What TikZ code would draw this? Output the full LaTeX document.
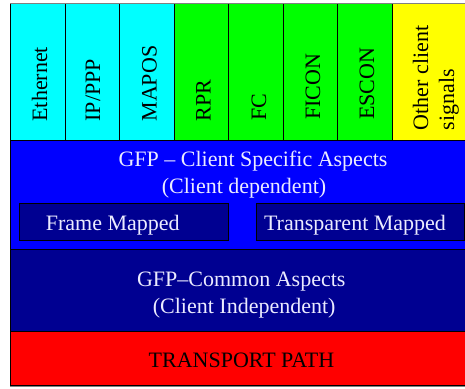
\documentclass[tikz,border=0pt]{standalone}
\usepackage{fontspec}
\setmainfont{Liberation Serif}
\definecolor{cyanfill}{RGB}{0,255,255}
\definecolor{greenfill}{RGB}{0,255,0}
\definecolor{yellowfill}{RGB}{255,255,0}
\definecolor{bluefill}{RGB}{0,0,255}
\definecolor{navyfill}{RGB}{0,0,145}
\definecolor{redfill}{RGB}{255,0,0}
\definecolor{lighttext}{RGB}{235,235,255}
\begin{document}
\begin{tikzpicture}[x=1pt,y=-1pt,
  every node/.style={inner sep=0pt},
  lbl/.style={font=\fontsize{22}{26}\selectfont},
  vlbl/.style={lbl, rotate=90, anchor=base west},
  wlbl/.style={lbl, text=lighttext, anchor=base},
  cell/.style={draw=black, line width=0.8pt}]
\useasboundingbox (0,0) rectangle (465,388);
\begin{scope}
\clip (0,0) rectangle (465,388);
% client columns
\filldraw[cell, fill=cyanfill] (10.5,3.5) rectangle (65,140);
\filldraw[cell, fill=cyanfill] (65,3.5) rectangle (119.5,140);
\filldraw[cell, fill=cyanfill] (119.5,3.5) rectangle (174,140);
\filldraw[cell, fill=greenfill] (174,3.5) rectangle (228.5,140);
\filldraw[cell, fill=greenfill] (228.5,3.5) rectangle (283,140);
\filldraw[cell, fill=greenfill] (283,3.5) rectangle (337.5,140);
\filldraw[cell, fill=greenfill] (337.5,3.5) rectangle (392,140);
\filldraw[cell, fill=yellowfill] (392,3.5) rectangle (475,140);
% layers
\filldraw[cell, fill=bluefill] (10.5,140) rectangle (475,249);
\filldraw[cell, fill=navyfill] (10.5,249) rectangle (475,331);
\filldraw[cell, fill=redfill] (10.5,331) rectangle (475,385.5);
% inner boxes
\filldraw[cell, fill=navyfill] (19.5,203.5) rectangle (228.5,240);
\filldraw[cell, fill=navyfill] (256,203.5) rectangle (464,240);
% outer grey edges
\draw[gray, line width=1pt] (10,3) -- (475,3);
\draw[gray, line width=1pt] (10,386.5) -- (475,386.5);
\end{scope}
% column labels
\node[vlbl] (eth) at (47,121.7) {Ethernet};
\node[vlbl] (ip) at (100,121.7) {IP/PPP};
\node[vlbl] (mapos) at (156.5,121.7) {MAPOS};
\node[vlbl] (rpr) at (210.5,121.7) {RPR};
\node[vlbl] (fc) at (266,120.7) {FC};
\node[vlbl] (ficon) at (320,120) {FICON};
\node[vlbl] (escon) at (374,120) {ESCON};
\node[lbl, rotate=90, anchor=north west, align=left] (other) at (412.7,130.5) {Other client\\signals};
% layer labels
\node[wlbl] (gfpcs) at (253,166.7) {GFP -- Client Specific Aspects};
\node[wlbl] (cdep) at (244,193) {(Client dependent)};
\node[wlbl] (fm) at (112.8,230.7) {Frame Mapped};
\node[wlbl] (tm) at (355,230.7) {Transparent Mapped};
\node[wlbl] (gfpc) at (241.3,286) {GFP--Common Aspects};
\node[wlbl] (cind) at (244.2,313) {(Client Independent)};
\node[lbl, anchor=base] (tp) at (241.5,367.3) {TRANSPORT PATH};
\end{tikzpicture}
\end{document}
